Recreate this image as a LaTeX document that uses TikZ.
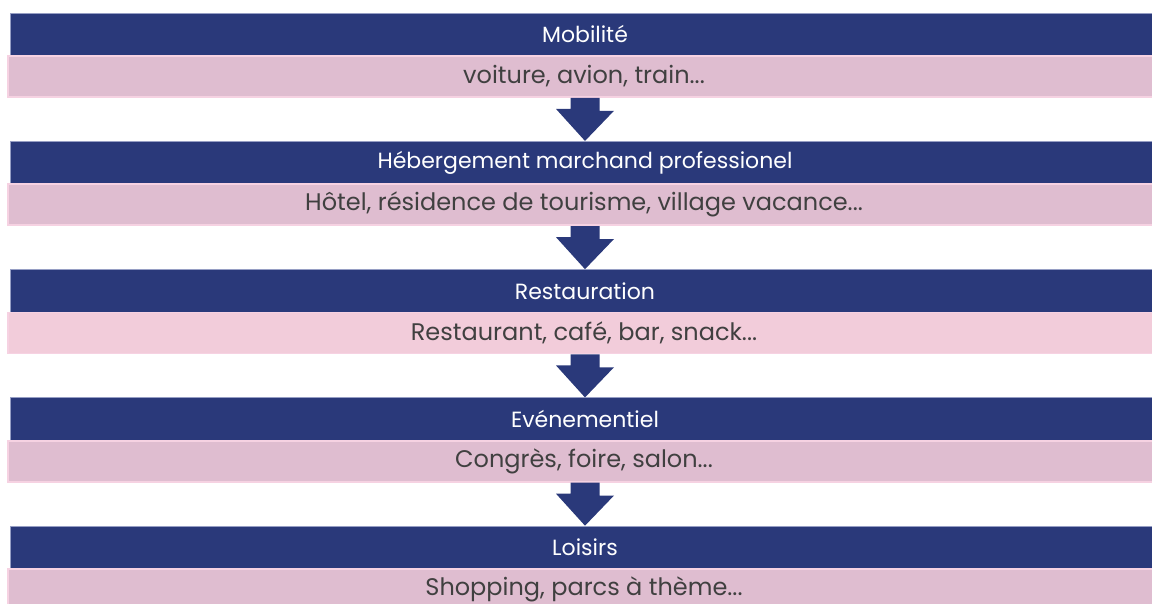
\documentclass[tikz,border=0pt]{standalone}
\usepackage{fontspec}
\setmainfont{Poppins}
\usetikzlibrary{calc}

\definecolor{navy}{RGB}{42,57,122}
\definecolor{navyedge}{RGB}{150,158,196}
\definecolor{rosedark}{RGB}{223,189,208}
\definecolor{roselight}{RGB}{242,204,218}
\definecolor{roseedge}{RGB}{246,210,226}
\definecolor{textgray}{RGB}{64,64,64}

\tikzset{
    headbar/.style={fill=navy, draw=navyedge, line width=0.3pt, text=white,
        minimum width=575pt, minimum height=21.5pt, inner sep=0pt,
        font=\fontsize{11}{13}\selectfont},
    subbar/.style={fill=rosedark, draw=roseedge, line width=0.8pt, text=textgray,
        minimum width=576pt, minimum height=20.5pt, inner sep=0pt,
        font=\fontsize{12}{14}\selectfont}
}

\begin{document}
\begin{tikzpicture}[x=0.5pt, y=-0.5pt]
        \useasboundingbox (0,0) rectangle (1152,604);
        \clip (0,0) rectangle (1152,604);

        \node [headbar] (head1) at (585, 34.5) {Mobilité};
        \node [subbar] (sub1) at (584, 76.5) {voiture, avion, train...};
        \node [headbar] (head2) at (585, 162.75) {Hébergement marchand professionel};
        \node [subbar] (sub2) at (584, 204.75) {Hôtel, résidence de tourisme, village vacance...};
        \node [headbar] (head3) at (585, 291) {Restauration};
        \node [subbar, fill=roselight] (sub3) at (584, 333) {Restaurant, café, bar, snack...};
        \node [headbar] (head4) at (585, 419.25) {Evénementiel};
        \node [subbar] (sub4) at (584, 461.25) {Congrès, foire, salon...};
        \node [headbar] (head5) at (585, 547.5) {Loisirs};
        \node [subbar] (sub5) at (584, 589.5) {Shopping, parcs à thème...};

        % block arrows between the rows
        \foreach \i/\j in {1/2,2/3,3/4,4/5} {
            \fill[navy] ($(head\j.north |- sub\i.south)+(-14.5,0)$) -- ++(29,0) -- ++(0,13)
                -- ++(14.5,0) -- (head\j.north) -- ++(-29,-32) -- ++(14.5,0) -- cycle;
        }
    \end{tikzpicture}
\end{document}
